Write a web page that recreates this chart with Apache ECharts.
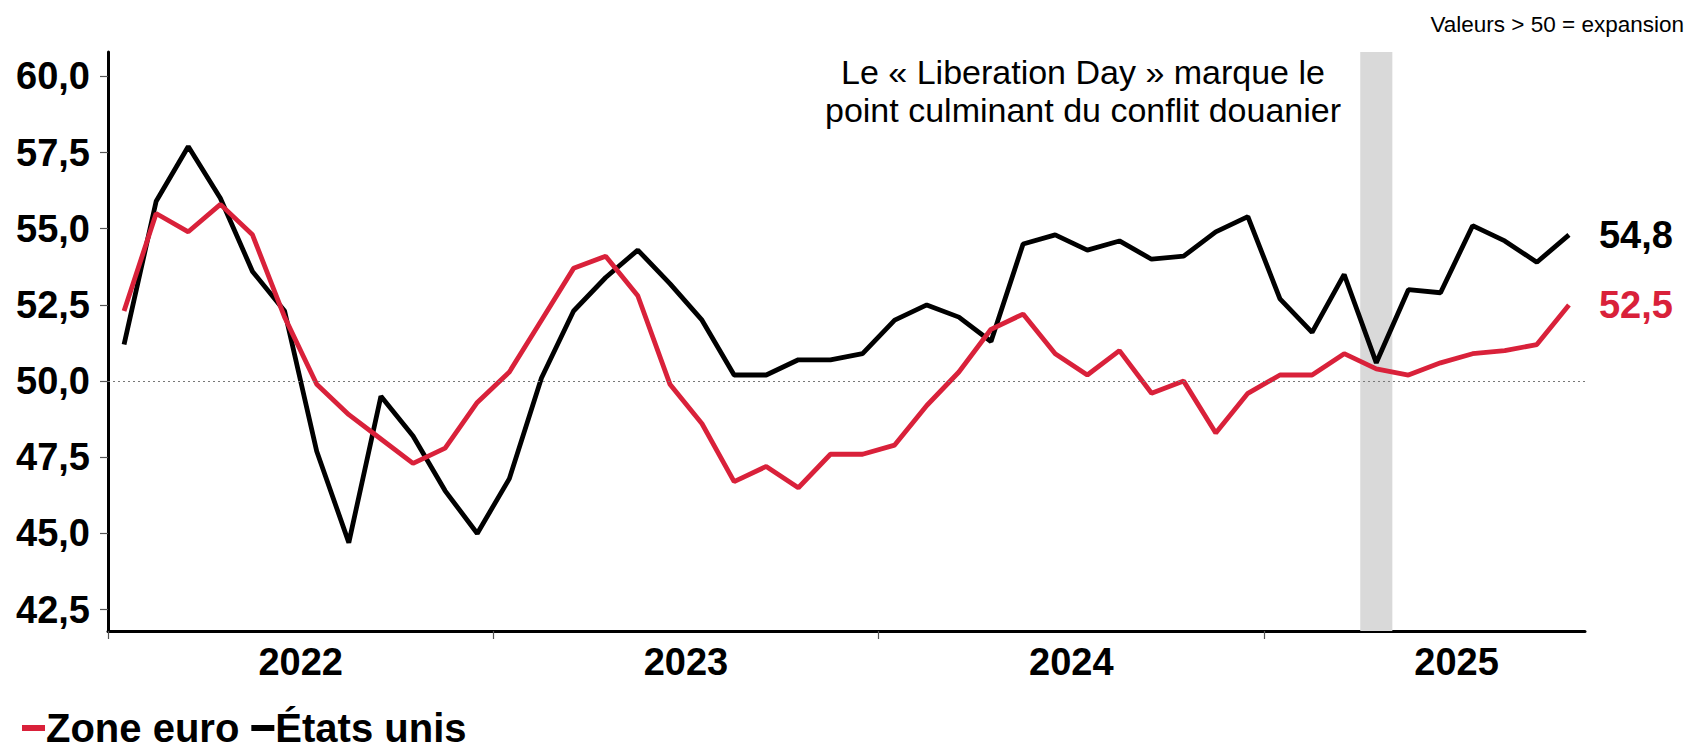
<!DOCTYPE html>
<html>
<head>
<meta charset="utf-8">
<script src="https://cdn.jsdelivr.net/npm/echarts@6/dist/echarts.min.js"></script>
<style>
html,body{margin:0;padding:0;background:#fff;}
#chart{width:1685px;height:749px;}
</style>
</head>
<body>
<div id="chart"></div>
<script>
const months = [
 '2022-01','2022-02','2022-03','2022-04','2022-05','2022-06','2022-07','2022-08','2022-09','2022-10','2022-11','2022-12',
 '2023-01','2023-02','2023-03','2023-04','2023-05','2023-06','2023-07','2023-08','2023-09','2023-10','2023-11','2023-12',
 '2024-01','2024-02','2024-03','2024-04','2024-05','2024-06','2024-07','2024-08','2024-09','2024-10','2024-11','2024-12',
 '2025-01','2025-02','2025-03','2025-04','2025-05','2025-06','2025-07','2025-08','2025-09','2025-10'
];
const etatsUnis = [
 51.2, 55.9, 57.7, 56.0, 53.6, 52.3, 47.7, 44.7, 49.5, 48.2, 46.4, 45.0,
 46.8, 50.1, 52.3, 53.4, 54.3, 53.2, 52.0, 50.2, 50.2, 50.7, 50.7, 50.9,
 52.0, 52.5, 52.1, 51.3, 54.5, 54.8, 54.3, 54.6, 54.0, 54.1, 54.9, 55.4,
 52.7, 51.6, 53.5, 50.6, 53.0, 52.9, 55.1, 54.6, 53.9, 54.8
];
const zoneEuro = [
 52.3, 55.5, 54.9, 55.8, 54.8, 52.1, 49.9, 48.9, 48.1, 47.3, 47.8, 49.3,
 50.3, 52.0, 53.7, 54.1, 52.8, 49.9, 48.6, 46.7, 47.2, 46.5, 47.6, 47.6,
 47.9, 49.2, 50.3, 51.7, 52.2, 50.9, 50.2, 51.0, 49.6, 50.0, 48.3, 49.6,
 50.2, 50.2, 50.9, 50.4, 50.2, 50.6, 50.9, 51.0, 51.2, 52.5
];
const yTicks = [42.5, 45.0, 47.5, 50.0, 52.5, 55.0, 57.5, 60.0];
const yearLabels = ['2022', '2023', '2024', '2025'];
const highlightMonths = ['2025-04'];
const threshold = 50;
const annotation = 'Le « Liberation Day » marque le\npoint culminant du conflit douanier';
const note = 'Valeurs > 50 = expansion';

const Y_MIN = 41.8, Y_MAX = 60.8;
const RED = '#D9213A', BLACK = '#000000';
const FONT = "'Liberation Sans', Arial, sans-serif";
const fmt = v => Number(v).toFixed(1).replace('.', ',');

const yearTickPos = yearLabels.map((y, i) => i * 12);
const yearLabelPos = yearLabels.map((y, i) => i * 12 + 6);

const gridBox = {left: 108, right: 100, top: 52, bottom: 118, containLabel: false};

const chart = echarts.init(document.getElementById('chart'), null, {renderer: 'svg'});
chart.setOption({
  animation: false,
  backgroundColor: '#fff',
  textStyle: {fontFamily: FONT},
  grid: [Object.assign({}, gridBox), Object.assign({}, gridBox)],
  legend: {
    data: ['Zone euro', 'États unis'],
    left: 22, top: 708, padding: 0,
    icon: 'rect', itemWidth: 23, itemHeight: 6, itemGap: 12,
    textStyle: {fontSize: 40, lineHeight: 38, fontWeight: 'bold', color: '#000', fontFamily: FONT, padding: [0, 0, 0, -4]}
  },
  xAxis: [
    {
      type: 'category', gridIndex: 0, data: months, boundaryGap: true,
      axisLine: {lineStyle: {color: '#000', width: 3}},
      axisTick: {show: false}, axisLabel: {show: false}, splitLine: {show: false}
    },
    {
      type: 'value', gridIndex: 1, min: 0, max: months.length,
      axisLine: {show: false}, splitLine: {show: false},
      axisTick: {show: true, customValues: yearTickPos, length: 8, lineStyle: {color: '#555', width: 1.2}},
      axisLabel: {
        show: true, customValues: yearLabelPos, margin: 12,
        formatter: v => yearLabels[Math.round((v - 6) / 12)],
        fontSize: 38, fontWeight: 'bold', color: '#000', fontFamily: FONT
      }
    }
  ],
  yAxis: [
    {
      type: 'value', gridIndex: 0, min: Y_MIN, max: Y_MAX,
      axisLine: {show: true, lineStyle: {color: '#000', width: 3}},
      splitLine: {show: false},
      axisTick: {show: true, customValues: yTicks, length: 8, lineStyle: {color: '#555', width: 1.2}},
      axisLabel: {
        customValues: yTicks, margin: 18, formatter: v => fmt(v),
        fontSize: 38, fontWeight: 'bold', color: '#000', fontFamily: FONT
      }
    },
    {
      type: 'value', gridIndex: 1, min: 0, max: 1, show: false
    }
  ],
  series: [
    {
      name: 'band', type: 'bar', xAxisIndex: 0, yAxisIndex: 0,
      data: months.map(m => highlightMonths.includes(m) ? Y_MAX : null),
      barWidth: '100%', itemStyle: {color: '#D9D9D9'}, silent: true, z: 1, clip: true,
      markLine: {
        silent: true, symbol: 'none', label: {show: false},
        lineStyle: {type: [2, 3], color: '#777', width: 1.2},
        data: [{yAxis: threshold}]
      }
    },
    {
      name: 'États unis', type: 'line', xAxisIndex: 0, yAxisIndex: 0,
      data: etatsUnis, symbol: 'none', color: BLACK,
      lineStyle: {color: BLACK, width: 4.8}, z: 3,
      endLabel: {show: true, formatter: p => fmt(p.value), distance: 30,
        fontSize: 38, fontWeight: 'bold', color: BLACK, fontFamily: FONT}
    },
    {
      name: 'Zone euro', type: 'line', xAxisIndex: 0, yAxisIndex: 0,
      data: zoneEuro, symbol: 'none', color: RED,
      lineStyle: {color: RED, width: 4.8}, z: 4,
      endLabel: {show: true, formatter: p => fmt(p.value), distance: 30,
        fontSize: 38, fontWeight: 'bold', color: RED, fontFamily: FONT}
    },
    {
      name: 'dummy', type: 'line', xAxisIndex: 1, yAxisIndex: 1, data: [], silent: true
    }
  ],
  graphic: [
    {
      type: 'text', x: 1083, y: 53, silent: true,
      style: {text: annotation, fontSize: 34, lineHeight: 38, fill: '#000',
        fontFamily: FONT, textAlign: 'center', textVerticalAlign: 'top'}
    },
    {
      type: 'text', x: 1684, y: 13, silent: true,
      style: {text: note, fontSize: 22.5, fill: '#000', fontFamily: FONT,
        textAlign: 'right', textVerticalAlign: 'top'}
    }
  ]
});
</script>
</body>
</html>
